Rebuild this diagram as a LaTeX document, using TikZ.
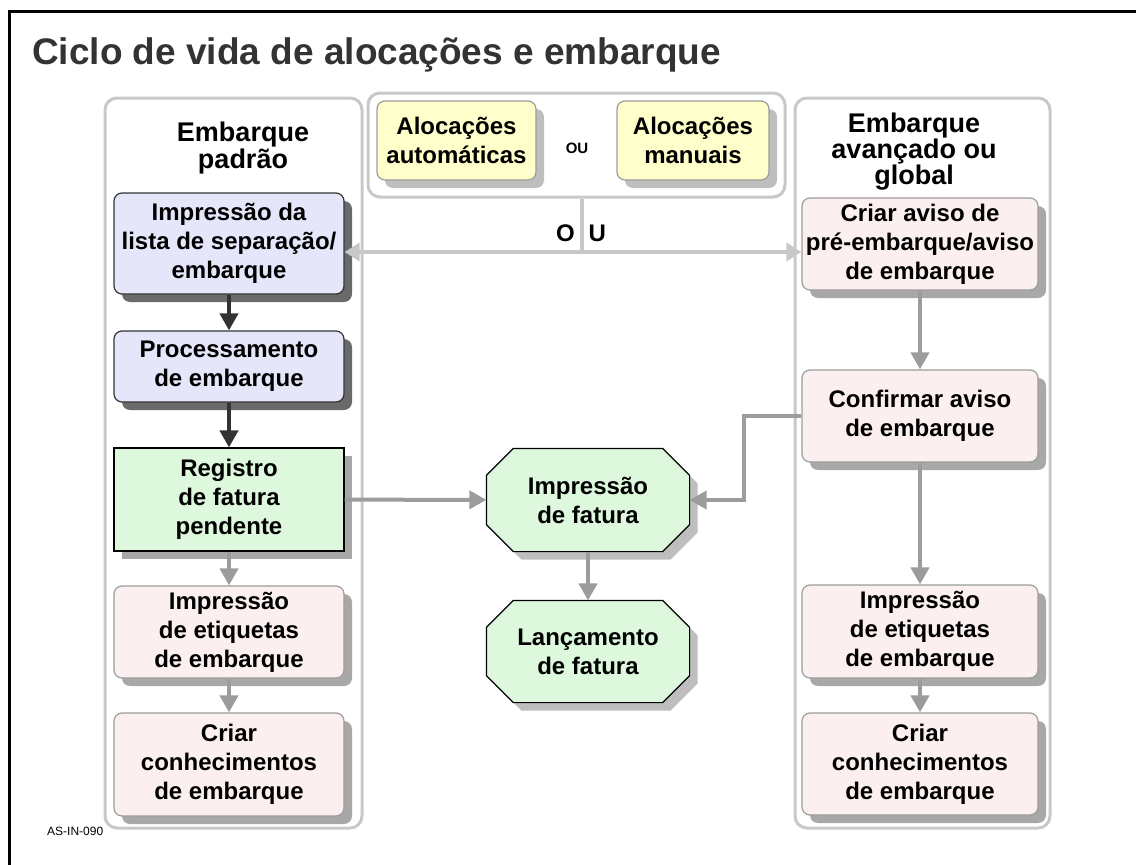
\documentclass[tikz,border=0pt]{standalone}
\usepackage{fontspec}
\setmainfont{Liberation Sans}
\usetikzlibrary{arrows.meta}
\usetikzlibrary{shadows}
\usetikzlibrary{backgrounds}
\usetikzlibrary{positioning}

\definecolor{lanegray}{HTML}{C8C8C8}
\definecolor{flowgray}{HTML}{9C9C9C}
\definecolor{flowdark}{HTML}{333333}
\definecolor{shadowdark}{HTML}{6A6A6A}
\definecolor{shadowmid}{HTML}{A8A8A8}
\definecolor{shadowlight}{HTML}{BEBEBE}
\definecolor{bluefill}{HTML}{E6E6FA}
\definecolor{pinkfill}{HTML}{FCEFEF}
\definecolor{greenfill}{HTML}{DDF8DD}
\definecolor{yellowfill}{HTML}{FFFFCC}

% octagon round a rectangle node: node, x shift, y shift
\newcommand\octagonpath[3]{%
  ([shift={(27+#2,#3)}]#1.north west) -- ([shift={(-27+#2,#3)}]#1.north east)
  -- ([shift={(#2,27+#3)}]#1.north east) -- ([shift={(#2,-27+#3)}]#1.south east)
  -- ([shift={(-27+#2,#3)}]#1.south east) -- ([shift={(27+#2,#3)}]#1.south west)
  -- ([shift={(#2,-27+#3)}]#1.south west) -- ([shift={(#2,27+#3)}]#1.north west) -- cycle}

\tikzset{
  lane/.style={rectangle, draw=lanegray, line width=3pt, rounded corners=12pt, inner sep=0pt},
  flowbox/.style={rectangle, align=center, inner sep=0pt, line width=1.2pt,
    font=\bfseries\fontsize{24}{29}\selectfont},
  shade/.style={drop shadow={shadow xshift=8pt, shadow yshift=-8pt, fill=#1, opacity=1}},
  bluebox/.style={flowbox, rounded corners=8pt, draw=flowdark, fill=bluefill, shade=shadowdark},
  pinkbox/.style={flowbox, rounded corners=8pt, draw=flowgray, fill=pinkfill, shade=shadowmid},
  greenbox/.style={flowbox, draw=black, fill=greenfill, shade=shadowmid},
  yellowbox/.style={flowbox, rounded corners=8pt, draw=flowgray, fill=yellowfill, shade=shadowlight},
  octbox/.style={flowbox, minimum width=202pt},
  header/.style={align=center, inner sep=0pt, font=\bfseries\fontsize{27}{24}\selectfont},
  leftcol/.style={minimum width=230pt},
  rightcol/.style={minimum width=236pt},
  darkflow/.style={draw=flowdark, line width=4pt, -{Triangle[length=17pt,width=18pt]}},
  grayflow/.style={draw=flowgray, line width=4pt, -{Triangle[length=17pt,width=18pt]}},
  ouflow/.style={draw=lanegray, line width=4.5pt}
}

\begin{document}
\begin{tikzpicture}[x=1pt, y=-1pt]
  \useasboundingbox (0,0) rectangle (1136,865);
  \draw[line width=3pt] (9.5,865) -- (9.5,11) -- (1136,11);

  \node[anchor=base west, inner sep=0pt, text=flowdark, font=\bfseries\fontsize{37}{40}\selectfont]
    (title) at (32,64) {Ciclo de vida de alocações e embarque};
  \node[anchor=west, inner sep=0pt, font=\fontsize{12}{14}\selectfont] (code) at (47,831) {AS-IN-090};

  % lanes
  \node[lane, minimum width=257pt, minimum height=730pt] (leftlane)  at (233.5,463) {};
  \node[lane, minimum width=417pt, minimum height=104pt] (alloclane) at (576.5,145) {};
  \node[lane, minimum width=255pt, minimum height=730pt] (rightlane) at (922.5,463) {};

  \node[header] (stdhead) at (243,148) {Embarque\\padrão};
  \node[header] (advhead) at (914,151.5) {Embarque\\avançado ou\\global};

  % allocations
  \node[yellowbox, minimum width=159pt, minimum height=79pt] (auto)   at (456.5,140.5) {Alocações\\automáticas};
  \node[yellowbox, minimum width=152pt, minimum height=79pt] (manual) at (693,140.5) {Alocações\\manuais};
  \node[inner sep=0pt, font=\bfseries\fontsize{15}{18}\selectfont] (ousmall) at (577,148) {OU};

  % standard shipping
  \node[bluebox, leftcol, minimum height=101pt] (pick)  at (229,243.5) {Impressão da\\lista de separação/\\embarque};
  \node[bluebox, leftcol, minimum height=71pt]  (proc)  at (229,366.5) {Processamento\\de embarque};
  \node[greenbox, leftcol, minimum height=103pt] (pend) at (229,499.5) {Registro\\de fatura\\pendente};
  \node[pinkbox, leftcol, minimum height=92pt]  (label) at (229,632)   {Impressão\\de etiquetas\\de embarque};
  \node[pinkbox, leftcol, minimum height=103pt] (bill)  at (229,764.5) {Criar\\conhecimentos\\de embarque};

  % advanced / global shipping
  \node[pinkbox, rightcol, minimum height=92pt]  (asn)    at (920,244)   {Criar aviso de\\pré-embarque/aviso\\de embarque};
  \node[pinkbox, rightcol, minimum height=92pt]  (conf)   at (920,416)   {Confirmar aviso\\de embarque};
  \node[pinkbox, rightcol, minimum height=93pt]  (label2) at (920,631.5) {Impressão\\de etiquetas\\de embarque};
  \node[pinkbox, rightcol, minimum height=102pt] (bill2)  at (920,764)   {Criar\\conhecimentos\\de embarque};

  % invoices
  \node[octbox, minimum height=102pt] (inv)  at (588,500)   {Impressão\\de fatura};
  \node[octbox, minimum height=101pt] (post) at (588,651.5) {Lançamento\\de fatura};
  \begin{pgfonlayer}{background}
    \fill[shadowlight] \octagonpath{inv}{8}{8};
    \fill[shadowlight] \octagonpath{post}{8}{8};
    \filldraw[fill=greenfill, draw=black, line width=1.2pt] \octagonpath{inv}{0}{0};
    \filldraw[fill=greenfill, draw=black, line width=1.2pt] \octagonpath{post}{0}{0};
  \end{pgfonlayer}

  % or-split
  \coordinate (oujoin) at (582,252);
  \draw[ouflow] (oujoin) -- (oujoin |- alloclane.south);
  \draw[ouflow, {Triangle[length=15pt,width=18pt]}-{Triangle[length=15pt,width=18pt]}]
    (oujoin -| pick.east) -- (oujoin -| asn.west);
  \node[inner sep=0pt, font=\bfseries\fontsize{24}{29}\selectfont] (oubig) at (581,233) {O\hspace{14pt}U};

  \draw[darkflow] (pick) -- (proc);
  \draw[darkflow] (proc) -- (pend);
  \draw[grayflow] (pend) -- (label);
  \draw[grayflow] (label) -- (bill);

  \draw[grayflow] (asn) -- (conf);
  \draw[grayflow] (conf) -- (label2);
  \draw[grayflow] (label2) -- (bill2);

  \draw[grayflow] (pend) -- (inv);
  \draw[grayflow] (conf.west) -- ++(-57,0) |- (inv.east);
  \draw[grayflow] (inv) -- (post);
\end{tikzpicture}
\end{document}
